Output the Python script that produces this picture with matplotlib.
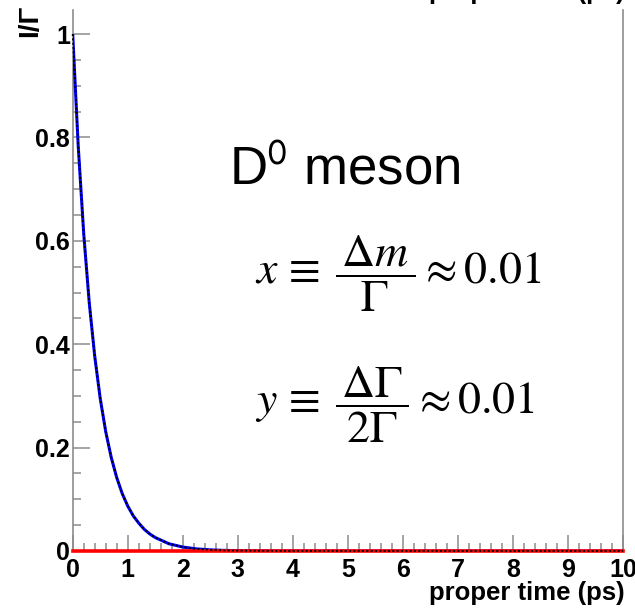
import matplotlib
matplotlib.use("Agg")
import matplotlib.pyplot as plt
from matplotlib.ticker import MultipleLocator

# proper time (ps) and intensities
t_ps = [0.0, 0.1, 0.2, 0.3, 0.4, 0.5, 0.6, 0.7, 0.8, 0.9, 1.0, 1.1, 1.2, 1.3,
        1.4, 1.5, 1.75, 2.0, 2.25, 2.5, 2.75, 3.0, 3.5, 4.0, 5.0, 6.0, 7.0,
        8.0, 9.0, 10.0]
unmixed = [1.000, 0.784, 0.614, 0.481, 0.377, 0.295, 0.231, 0.181, 0.142,
           0.111, 0.087, 0.068, 0.054, 0.042, 0.033, 0.026, 0.014, 0.0076,
           0.0041, 0.0022, 0.0012, 0.0007, 0.0002, 0.00006, 0.0, 0.0, 0.0,
           0.0, 0.0, 0.0]
unmixed_bar = list(unmixed)
mixed = [0.0] * len(t_ps)

xticks = [0, 1, 2, 3, 4, 5, 6, 7, 8, 9, 10]
yticks = [0, 0.2, 0.4, 0.6, 0.8, 1]
ytick_labels = ["0", "0.2", "0.4", "0.6", "0.8", "1"]

plt.rcParams["mathtext.fontset"] = "stix"
plt.rcParams["font.family"] = ["Liberation Sans", "DejaVu Sans"]

W, H = 635, 609
fig = plt.figure(figsize=(W / 100, H / 100), dpi=100)
left, right, bottom, top = 72.7, 623, 551, 10
ax = fig.add_axes([left / W, (H - bottom) / H, (right - left) / W, (bottom - top) / H])

ax.plot(t_ps, unmixed, color="#0000ff", lw=2.2, solid_capstyle="butt", zorder=3)
ax.plot(t_ps, mixed, color="#ff0000", lw=2.6, zorder=4, clip_on=False)
ax.plot(t_ps, unmixed_bar, color="black", lw=1.3, ls=(0, (1.2, 1.2)), zorder=5,
        clip_on=False)

ax.set_xlim(0, 10)
ax.set_ylim(0, (bottom - top) / 517.0)

grey = "#8c8c8c"
for s in ["left", "right", "bottom"]:
    ax.spines[s].set_color(grey)
    ax.spines[s].set_linewidth(1.2)
ax.spines["top"].set_visible(False)

ax.set_xticks(xticks)
ax.set_xticklabels([str(v) for v in xticks])
ax.set_yticks(yticks)
ax.set_yticklabels(ytick_labels)
ax.xaxis.set_minor_locator(MultipleLocator(0.2))
ax.yaxis.set_minor_locator(MultipleLocator(0.05))
ax.tick_params(axis="x", which="major", direction="in", length=11.5, width=1.1,
               color=grey, pad=5, labelsize=18)
ax.tick_params(axis="x", which="minor", direction="in", length=5.8, width=1.1,
               color=grey)
ax.tick_params(axis="y", which="major", direction="in", length=12, width=1.1,
               color=grey, pad=2, labelsize=18)
ax.tick_params(axis="y", which="minor", direction="in", length=5.8, width=1.1,
               color=grey)
for lab in ax.get_xticklabels() + ax.get_yticklabels():
    lab.set_fontweight("bold")

# axis titles
fig.text(625 / W, 1 - 600 / H, "proper time (ps)", ha="right", va="baseline",
         fontsize=18.5, fontweight="bold")
fig.text(625 / W, 1 + 1.5 / H, "proper time (ps)", ha="right", va="baseline",
         fontsize=18.5, fontweight="bold")
fig.text(30 / W, 1 - 37 / H, "I/Γ", rotation=90, ha="center", va="bottom",
         fontsize=20, fontweight="bold")

# annotations
fig.text(229 / W, 1 - 184 / H, r"D$^{\mathsf{0}}$ meson", ha="left", va="baseline",
         fontsize=38)
fig.text(255 / W, 1 - 274 / H,
         r"$x\,\equiv\;\dfrac{\,\Delta m\,}{\Gamma}\approx 0.01$",
         ha="left", va="center", fontsize=33)
fig.text(255 / W, 1 - 405 / H,
         r"$y\,\equiv\;\dfrac{\,\Delta \Gamma\,}{2\Gamma}\approx 0.01$",
         ha="left", va="center", fontsize=33)

fig.savefig("out.png", dpi=100)
